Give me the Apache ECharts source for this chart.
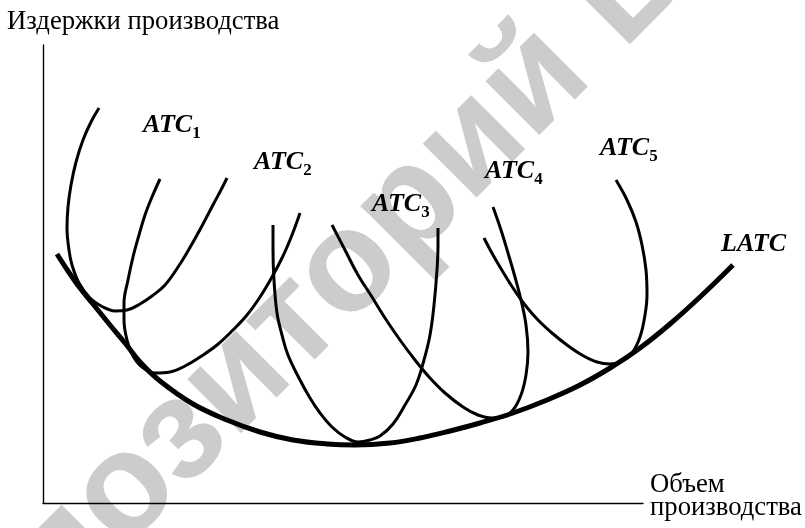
<!DOCTYPE html>
<html>
<head>
<meta charset="utf-8">
<script src="https://cdn.jsdelivr.net/npm/echarts@6/dist/echarts.min.js"></script>
<style>html,body{margin:0;padding:0;background:#fff;}#c{width:805px;height:528px;}</style>
</head>
<body>
<div id="c"></div>
<script>
// Output (Q) and cost (C) readings, in chart units (origin at the axes' corner)
const latcQ = [14,25,37,50,67,82,97,117,150,184,217,250,284,312,347,377,407,437,470,504,537,567,597,627,657,690];
const latcC = [249,232,215,199,178,160,141,122,99,83,71,63,59,58,60,65,72,80,90,103,118,135,155,179,206,238];

const atc1Q = [56,48,40,33,28,25,24,26,29,36,47,60,72,84,97,109,122,137,149,160,171,179,184];
const atc1C = [395,381,363,341,318,296,275,253,238,220,205,196,192,193,199,207,218,239,259,279,300,315,325];

const atc2Q = [117,109,102,96,90,85,81,81,84,90,99,112,127,142,157,174,190,204,217,229,240,249,257];
const atc2C = [324,306,288,268,246,223,200,183,163,147,136,130,131,137,146,158,173,188,206,226,247,268,290];

const atc3Q = [230,230,231,234,239,245,257,267,277,289,302,315,327,337,350,362,373,381,387,391,394,395,395];
const atc3C = [278,253,223,190,168,148,123,105,90,76,66,61,63,67,79,98,118,143,168,198,233,258,275];

const atc4Q = [289,302,315,329,342,357,372,387,402,420,435,449,460,470,478,483,485,483,478,472,465,458,450];
const atc4C = [278,253,228,206,185,163,143,125,110,96,88,85,86,93,108,128,151,178,203,226,250,273,296];

const atc5Q = [441,450,460,470,482,495,509,524,539,554,567,579,589,597,602,604,603,599,593,584,573];
const atc5C = [265,248,231,215,198,183,170,158,148,141,139,142,150,166,188,208,233,258,281,303,323];

const curveNames = ['ATC1','ATC2','ATC3','ATC4','ATC5','LATC'];
const yTitle = 'Издержки производства';
const xTitle = ['Объем', 'производства'];
const watermark = 'Репозиторий БрГУ';

function pairs(q, c) { return q.map((v, i) => [v, c[i]]); }

const chart = echarts.init(document.getElementById('c'), null, {renderer: 'canvas'});
const serif = '"Liberation Serif", "Times New Roman", serif';

function curve(name, q, c, w) {
  return {
    name: name, type: 'line', data: pairs(q, c), showSymbol: false, symbol: 'none',
    xAxisIndex: 1, yAxisIndex: 1,
    smooth: 0.4, clip: false, silent: true, z: 5,
    lineStyle: {color: '#000', width: w, cap: 'butt'}
  };
}

function atcLabel(x, y, sub) {
  return {
    type: 'text', x: x, y: y, z: 100,
    style: {
      text: '{a|ATC}{s|' + sub + '}',
      textVerticalAlign: 'bottom',
      rich: {
        a: {fontFamily: serif, fontWeight: 'bold', fontStyle: 'italic', fontSize: 26, fill: '#000', color: '#000'},
        s: {fontFamily: serif, fontWeight: 'bold', fontSize: 17, fill: '#000', color: '#000', verticalAlign: 'bottom', padding: [0,0,-4,0]}
      }
    }
  };
}

const option = {
  backgroundColor: '#fff',
  animation: false,
  grid: [
    {left: 43, top: 45, width: 600, height: 458},
    {left: 43, top: 45, width: 762, height: 458}
  ],
  xAxis: [
    {
      gridIndex: 0, type: 'value', min: 0, max: 600,
      axisLine: {show: true, lineStyle: {color: '#000', width: 1.4}},
      axisTick: {show: false}, axisLabel: {show: false}, splitLine: {show: false}
    },
    {gridIndex: 1, type: 'value', min: 0, max: 762, show: false}
  ],
  yAxis: [
    {
      gridIndex: 0, type: 'value', min: 0, max: 458,
      axisLine: {show: true, lineStyle: {color: '#000', width: 1.4}},
      axisTick: {show: false}, axisLabel: {show: false}, splitLine: {show: false}
    },
    {gridIndex: 1, type: 'value', min: 0, max: 458, show: false}
  ],
  series: [
    curve(curveNames[0], atc1Q, atc1C, 3),
    curve(curveNames[1], atc2Q, atc2C, 3),
    curve(curveNames[2], atc3Q, atc3C, 3),
    curve(curveNames[3], atc4Q, atc4C, 3),
    curve(curveNames[4], atc5Q, atc5C, 3),
    curve(curveNames[5], latcQ, latcC, 5)
  ],
  graphic: [
    {
      type: 'text', x: -89, y: 707, rotation: Math.PI / 4, z: -10, silent: true,
      style: {text: watermark, fill: '#cccccc', font: 'bold 144px "Liberation Sans", Arial, sans-serif', textAlign: 'left', textVerticalAlign: 'middle'}
    },
    {
      type: 'text', x: 7, y: 22, z: 100,
      style: {text: yTitle, fill: '#000', font: '26.7px ' + serif, textVerticalAlign: 'middle'}
    },
    {
      type: 'text', x: 650, y: 485, z: 100,
      style: {text: xTitle[0], fill: '#000', font: '26.7px ' + serif, textVerticalAlign: 'middle'}
    },
    {
      type: 'text', x: 650, y: 508, z: 100,
      style: {text: xTitle[1], fill: '#000', font: '26.7px ' + serif, textVerticalAlign: 'middle'}
    },
    atcLabel(143, 138, '1'),
    atcLabel(254, 175, '2'),
    atcLabel(372, 217, '3'),
    atcLabel(485, 184, '4'),
    atcLabel(600, 161, '5'),
    {
      type: 'text', x: 721, y: 257, z: 100,
      style: {text: 'LATC', fill: '#000', font: 'italic bold 26px ' + serif, textVerticalAlign: 'bottom'}
    }
  ]
};
chart.setOption(option);
</script>
</body>
</html>
